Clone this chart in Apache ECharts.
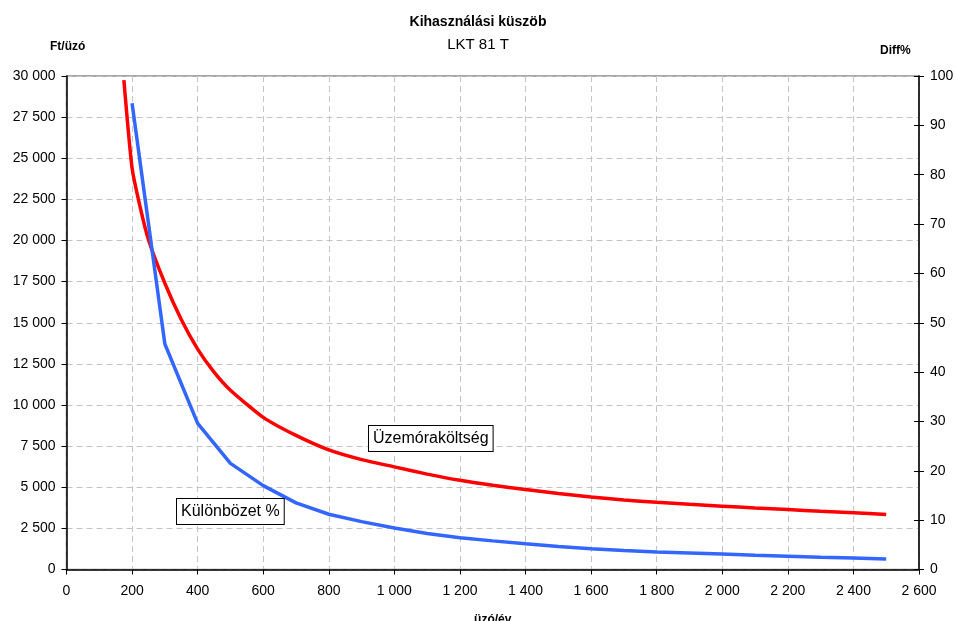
<!DOCTYPE html>
<html>
<head>
<meta charset="utf-8">
<script src="https://cdn.jsdelivr.net/npm/echarts@6/dist/echarts.min.js"></script>
<style>
  html, body { margin: 0; padding: 0; background: #ffffff; }
  #chart { width: 956px; height: 621px; }
</style>
</head>
<body>
<div id="chart"></div>
<script>
// Üzemóraköltség (Ft/üzó) by annual operating hours
const costHours = [175, 200, 225, 250, 300, 350, 400, 450, 500, 600, 700, 800, 900, 1000,
  1100, 1200, 1300, 1400, 1500, 1600, 1700, 1800, 1900, 2000, 2100, 2200, 2300, 2400, 2500];
const costValues = [29750, 24400, 22000, 20050, 17400, 15200, 13400, 12000, 10900, 9250, 8150, 7270, 6680, 6240,
  5800, 5420, 5120, 4860, 4625, 4410, 4230, 4085, 3960, 3850, 3740, 3640, 3545, 3455, 3350];

// Különbözet % (right axis)
const diffHours = [200, 300, 400, 500, 600, 700, 800, 900, 1000, 1100, 1200, 1300,
  1400, 1500, 1600, 1700, 1800, 1900, 2000, 2100, 2200, 2300, 2400, 2500];
const diffValues = [94.5, 45.7, 29.6, 21.5, 17.0, 13.5, 11.2, 9.7, 8.4, 7.3, 6.45, 5.8,
  5.2, 4.65, 4.2, 3.85, 3.55, 3.35, 3.15, 2.9, 2.7, 2.5, 2.35, 2.15];

const titleText = 'Kihasználási küszöb';
const subtitleText = 'LKT 81 T';
const leftAxisName = 'Ft/üzó';
const rightAxisName = 'Diff%';
const xAxisName = 'üzó/év';
const costLabel = 'Üzemóraköltség';
const diffLabel = 'Különbözet %';

const FONT = '"Liberation Sans", Arial, Helvetica, sans-serif';

function fmt(v) {
  return String(v).replace(/\B(?=(\d{3})+(?!\d))/g, ' ');
}

const chart = echarts.init(document.getElementById('chart'), null, { renderer: 'canvas' });

const gridLine = { show: true, lineStyle: { color: '#c4c4c4', width: 1, type: [6, 4] } };

chart.setOption({
  animation: false,
  backgroundColor: '#ffffff',
  textStyle: { fontFamily: FONT },
  grid: {
    left: 66.5, right: 37, top: 76, bottom: 51.5,
    outerBoundsMode: 'none', containLabel: false,
    show: true, borderColor: '#8a8a8a', borderWidth: 1.5, backgroundColor: 'transparent'
  },
  graphic: [
    { type: 'text', left: 'center', top: 15,
      style: { text: titleText, font: 'bold 14px ' + FONT, fill: '#000' } },
    { type: 'text', left: 'center', top: 37,
      style: { text: subtitleText, font: '15px ' + FONT, fill: '#000' } },
    { type: 'text', left: 50, top: 41,
      style: { text: leftAxisName, font: 'bold 12px ' + FONT, fill: '#000' } },
    { type: 'text', left: 880, top: 45,
      style: { text: rightAxisName, font: 'bold 12px ' + FONT, fill: '#000' } },
    { type: 'text', left: 368, top: 425, z: 100,
      style: { text: costLabel, font: '16px ' + FONT, fill: '#000',
        backgroundColor: '#ffffff', borderColor: '#000', borderWidth: 1,
        padding: [5, 4, 4, 4] } },
    { type: 'text', left: 176, top: 498, z: 100,
      style: { text: diffLabel, font: '16px ' + FONT, fill: '#000',
        backgroundColor: '#ffffff', borderColor: '#000', borderWidth: 1,
        padding: [5, 4, 4, 4] } }
  ],
  xAxis: {
    type: 'value', min: 0, max: 2600, interval: 200,
    name: xAxisName, nameLocation: 'middle', nameGap: 44,
    nameTextStyle: { fontWeight: 'bold', fontSize: 12, color: '#000', fontFamily: FONT },
    axisLine: { show: true, lineStyle: { color: '#000', width: 1.5 } },
    axisTick: { show: true, length: 5, lineStyle: { color: '#000' } },
    axisLabel: { color: '#000', fontSize: 14, margin: 15, formatter: fmt, fontFamily: FONT },
    splitLine: gridLine
  },
  yAxis: [
    {
      type: 'value', min: 0, max: 30000, interval: 2500, position: 'left',
      axisLine: { show: true, lineStyle: { color: '#000', width: 1.5 } },
      axisTick: { show: true, length: 5, lineStyle: { color: '#000' } },
      axisLabel: { color: '#000', fontSize: 14, margin: 11, formatter: fmt, fontFamily: FONT },
      splitLine: gridLine
    },
    {
      type: 'value', min: 0, max: 100, interval: 10, position: 'right',
      axisLine: { show: true, lineStyle: { color: '#000', width: 1.5 } },
      axisTick: { show: true, length: 5, lineStyle: { color: '#000' } },
      axisLabel: { color: '#000', fontSize: 14, margin: 11, fontFamily: FONT },
      splitLine: { show: false }
    },
    {
      // inner half of the right axis' crossing ticks
      type: 'value', min: 0, max: 100, interval: 10, position: 'right',
      axisLine: { show: false },
      axisTick: { show: true, inside: true, length: 5, lineStyle: { color: '#000' } },
      axisLabel: { show: false },
      splitLine: { show: false }
    }
  ],
  series: [
    {
      name: costLabel, type: 'line', yAxisIndex: 0, showSymbol: false, symbol: 'none',
      clip: true, smooth: 0.2,
      lineStyle: { color: '#ff0000', width: 3.5 },
      data: costHours.map((h, i) => [h, costValues[i]]),
      z: 3
    },
    {
      name: diffLabel, type: 'line', yAxisIndex: 1, showSymbol: false, symbol: 'none',
      clip: true,
      lineStyle: { color: '#3366ff', width: 3.5 },
      data: diffHours.map((h, i) => [h, diffValues[i]]),
      z: 4
    }
  ]
});
</script>
</body>
</html>
